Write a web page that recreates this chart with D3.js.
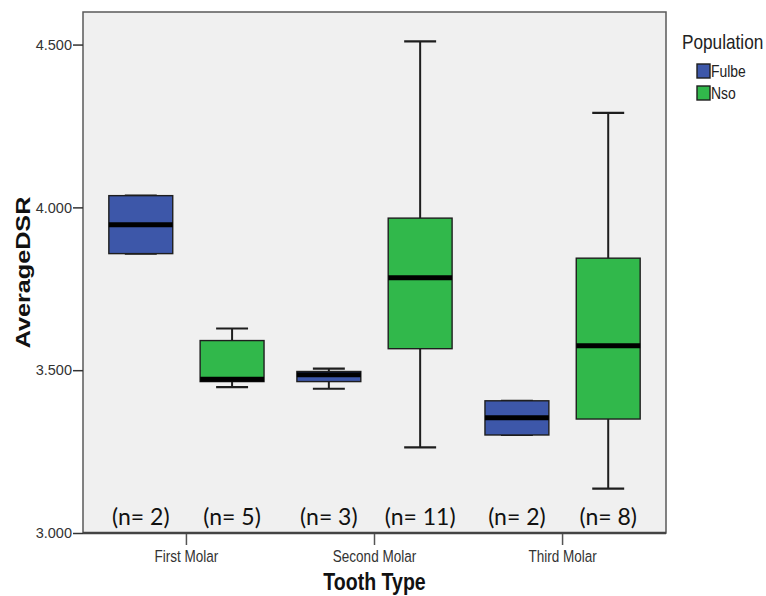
<!DOCTYPE html>
<html>
<head>
<meta charset="utf-8">
<script src="https://cdn.jsdelivr.net/npm/d3@7"></script>
<style>
  html, body { margin: 0; padding: 0; background: #ffffff; }
  svg { display: block; }
</style>
</head>
<body>
<svg id="chart" width="766" height="596"></svg>
<script>
// Average DSR by tooth type and population (box summaries)
const categories = ["First Molar", "Second Molar", "Third Molar"];
const populations = ["Fulbe", "Nso"];
const yTicks = [3.0, 3.5, 4.0, 4.5];

const fulbeMin    = [3.858, 3.443, 3.301];
const fulbeQ1     = [3.858, 3.465, 3.301];
const fulbeMedian = [3.947, 3.486, 3.354];
const fulbeQ3     = [4.036, 3.496, 3.406];
const fulbeMax    = [4.036, 3.505, 3.406];
const fulbeN      = [2, 3, 2];

const nsoMin    = [3.448, 3.263, 3.136];
const nsoQ1     = [3.465, 3.566, 3.350];
const nsoMedian = [3.472, 3.784, 3.575];
const nsoQ3     = [3.591, 3.967, 3.844];
const nsoMax    = [3.628, 4.510, 4.290];
const nsoN      = [5, 11, 8];

const colors = { Fulbe: "#3d57a9", Nso: "#31b84b" };

const series = {
  Fulbe: { min: fulbeMin, q1: fulbeQ1, med: fulbeMedian, q3: fulbeQ3, max: fulbeMax, n: fulbeN },
  Nso:   { min: nsoMin,   q1: nsoQ1,   med: nsoMedian,   q3: nsoQ3,   max: nsoMax,   n: nsoN }
};

const boxes = [];
categories.forEach((c, i) => {
  populations.forEach(p => {
    const s = series[p];
    boxes.push({ cat: c, pop: p, min: s.min[i], q1: s.q1[i], med: s.med[i], q3: s.q3[i], max: s.max[i], n: s.n[i] });
  });
});

const plot = { left: 83, right: 666, top: 12, bottom: 533 };
const sans = "'Liberation Sans', Arial, sans-serif";
const condensed = 0.82; // horizontal squeeze for the condensed labels
const svg = d3.select("#chart");

const x = d3.scaleBand().domain(categories).range([plot.left, plot.right])
  .paddingInner(0).paddingOuter(0.05);
const xs = d3.scaleBand().domain(populations).range([0, x.bandwidth()])
  .paddingInner(0.3).paddingOuter(0.18);
const y = d3.scaleLinear().domain([3.0, 4.6]).range([plot.bottom, plot.top]);

// plot area
svg.append("rect")
  .attr("x", plot.left).attr("y", plot.top)
  .attr("width", plot.right - plot.left).attr("height", plot.bottom - plot.top)
  .attr("fill", "#f0f0f0").attr("stroke", "#5a5a5a").attr("stroke-width", 1.5);

// boxes
const g = svg.append("g");
const bw = xs.bandwidth();
boxes.forEach(d => {
  const x0 = x(d.cat) + xs(d.pop);
  const cx = x0 + bw / 2;
  const cap = bw / 2;
  const stroke = "#1e1e1e";
  // whiskers
  g.append("line").attr("x1", cx).attr("x2", cx).attr("y1", y(d.max)).attr("y2", y(d.q3))
    .attr("stroke", stroke).attr("stroke-width", 2);
  g.append("line").attr("x1", cx).attr("x2", cx).attr("y1", y(d.q1)).attr("y2", y(d.min))
    .attr("stroke", stroke).attr("stroke-width", 2);
  g.append("line").attr("x1", cx - cap / 2).attr("x2", cx + cap / 2).attr("y1", y(d.max)).attr("y2", y(d.max))
    .attr("stroke", stroke).attr("stroke-width", 2.2);
  g.append("line").attr("x1", cx - cap / 2).attr("x2", cx + cap / 2).attr("y1", y(d.min)).attr("y2", y(d.min))
    .attr("stroke", stroke).attr("stroke-width", 2.2);
  // box
  g.append("rect").attr("x", x0).attr("y", y(d.q3))
    .attr("width", bw).attr("height", y(d.q1) - y(d.q3))
    .attr("fill", colors[d.pop]).attr("stroke", stroke).attr("stroke-width", 1.4);
  // median
  g.append("line").attr("x1", x0).attr("x2", x0 + bw).attr("y1", y(d.med)).attr("y2", y(d.med))
    .attr("stroke", "#000").attr("stroke-width", 5);
  // sample size
  g.append("text").attr("x", cx).attr("y", 525)
    .attr("text-anchor", "middle")
    .attr("font-family", "Lato, 'Open Sans', sans-serif").attr("font-size", 23)
    .attr("fill", "#111")
    .text(`(n= ${d.n})`);
});

// bottom axis line
svg.append("line").attr("x1", plot.left).attr("x2", plot.right)
  .attr("y1", plot.bottom).attr("y2", plot.bottom)
  .attr("stroke", "#444").attr("stroke-width", 2.5);

// x axis
const xAxis = svg.append("g").attr("transform", `translate(0,${plot.bottom + 1})`)
  .call(d3.axisBottom(x).tickSize(11).tickSizeOuter(0).tickPadding(5));
xAxis.select(".domain").remove();
xAxis.selectAll(".tick line").attr("stroke", "#555").attr("stroke-width", 1.5);
xAxis.selectAll(".tick text")
  .attr("font-family", sans)
  .attr("font-size", 16.5).attr("fill", "#333")
  .attr("transform", `scale(${condensed},1)`);

// y axis
const yAxis = svg.append("g").attr("transform", `translate(${plot.left},0)`)
  .call(d3.axisLeft(y).tickValues(yTicks).tickFormat(d3.format(".3f")).tickSize(10).tickPadding(1));
yAxis.select(".domain").remove();
yAxis.selectAll(".tick line").attr("stroke", "#333").attr("stroke-width", 1.5);
yAxis.selectAll(".tick text")
  .attr("font-family", sans)
  .attr("font-size", 14.5).attr("fill", "#333");

// axis titles
svg.append("text")
  .attr("transform", `translate(${(plot.left + plot.right) / 2},590) scale(0.85,1)`)
  .attr("text-anchor", "middle")
  .attr("font-family", sans)
  .attr("font-weight", "bold").attr("font-size", 23).attr("fill", "#111")
  .text("Tooth Type");

svg.append("text")
  .attr("transform", `translate(30,${(plot.top + plot.bottom) / 2}) rotate(-90) scale(1.2,1)`)
  .attr("text-anchor", "middle")
  .attr("font-family", sans)
  .attr("font-weight", "bold").attr("font-size", 21).attr("fill", "#111")
  .text("AverageDSR");

// legend
const legend = svg.append("g");
legend.append("text")
  .attr("transform", `translate(682,49) scale(${condensed},1)`)
  .attr("font-family", sans)
  .attr("font-size", 21).attr("fill", "#222")
  .text("Population");
populations.forEach((p, i) => {
  const yy = 64 + i * 22;
  legend.append("rect").attr("x", 697).attr("y", yy).attr("width", 13).attr("height", 14)
    .attr("fill", colors[p]).attr("stroke", "#1e1e1e").attr("stroke-width", 1.4);
  legend.append("text")
    .attr("transform", `translate(711,${yy + 13}) scale(${condensed},1)`)
    .attr("font-family", sans)
    .attr("font-size", 17).attr("fill", "#222")
    .text(p);
});
</script>
</body>
</html>
